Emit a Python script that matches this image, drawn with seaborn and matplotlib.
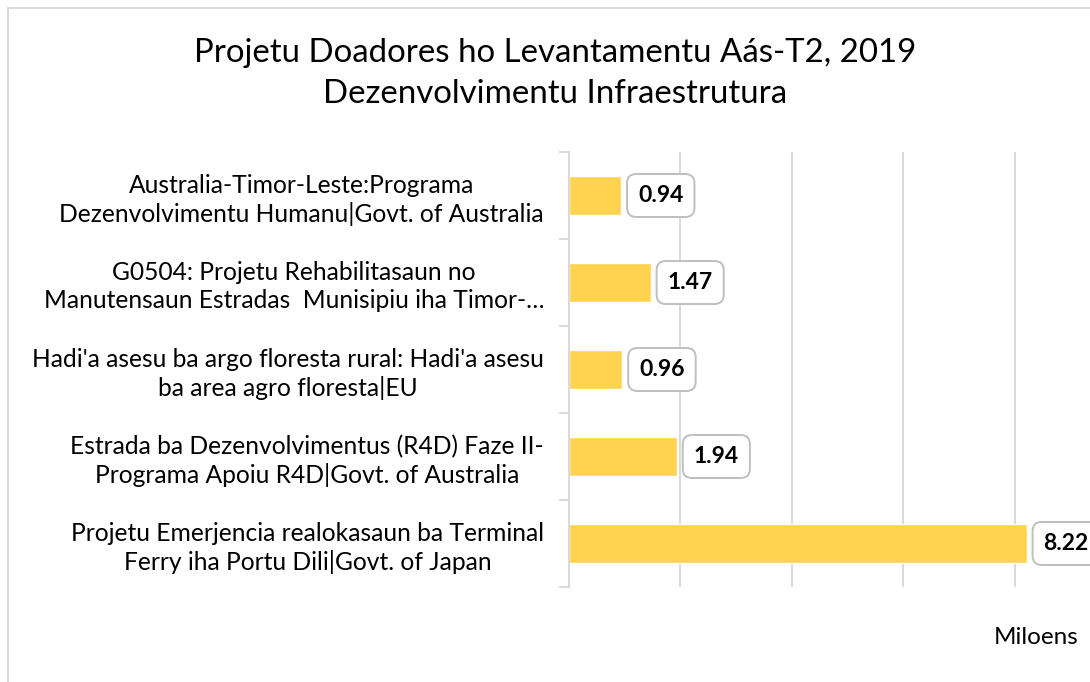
import matplotlib
matplotlib.use("Agg")
import matplotlib.pyplot as plt
import seaborn as sns
import pandas as pd
from matplotlib.patches import Rectangle
from matplotlib.ticker import FixedLocator

# data (millions)
projects = [
    "Australia-Timor-Leste:Programa\nDezenvolvimentu Humanu|Govt. of Australia",
    "G0504: Projetu Rehabilitasaun no\nManutensaun Estradas  Munisipiu iha Timor-…",
    "Hadi'a asesu ba argo floresta rural: Hadi'a asesu\nba area agro floresta|EU",
    "Estrada ba Dezenvolvimentus (R4D) Faze II-\nPrograma Apoiu R4D|Govt. of Australia",
    "Projetu Emerjencia realokasaun ba Terminal\nFerry iha Portu Dili|Govt. of Japan",
]
amounts = [0.94, 1.47, 0.96, 1.94, 8.22]
title = "Projetu Doadores ho Levantamentu Aás-T2, 2019\nDezenvolvimentu Infraestrutura"
unit_label = "Miloens"

df = pd.DataFrame({"projetu": projects, "montante": amounts})

sns.set_theme(style="white")
plt.rcParams["font.family"] = ["Lato", "DejaVu Sans"]

W, H = 1090, 682
fig = plt.figure(figsize=(W / 100, H / 100), dpi=100)

# outer chart frame (clipped at right/bottom like the source)
fig.add_artist(Rectangle((8 / W, -0.1), 1.2, (H - 8) / H + 0.1,
                         transform=fig.transFigure, fill=False,
                         edgecolor="#d9d9d9", lw=1.4))

ax = fig.add_axes([569 / W, 1 - 587 / H, 557 / W, 435 / H])
sns.barplot(data=df, x="montante", y="projetu", orient="h", color="#FFD34F",
            saturation=1, width=0.45, ax=ax)

ax.set_xlim(0, 10)
ax.set_ylim(4.5, -0.5)
ax.set_xlabel("")
ax.set_ylabel("")

for s in ["top", "right", "bottom"]:
    ax.spines[s].set_visible(False)
ax.spines["left"].set_color("#d9d9d9")
ax.spines["left"].set_linewidth(1.4)

ax.set_xticks([2, 4, 6, 8, 10])
ax.set_xticklabels([])
ax.tick_params(axis="x", length=0)
ax.grid(axis="x", color="#d9d9d9", lw=1.4)
ax.set_axisbelow(True)

ax.set_yticks(range(len(projects)))
ax.set_yticklabels(projects, fontsize=17.7, color="#000000", multialignment="center",
                   linespacing=1.25)
ax.tick_params(axis="y", which="major", length=0, pad=18)
ax.yaxis.set_minor_locator(FixedLocator([i - 0.5 for i in range(len(projects) + 1)]))
ax.tick_params(axis="y", which="minor", length=7, color="#d9d9d9", width=1.4, left=True)

for i, v in enumerate(amounts):
    ax.text(v + 0.3, i, f"{v:.2f}", ha="left", va="center", fontsize=16.5,
            fontweight="bold", color="#000000", zorder=5,
            bbox=dict(boxstyle="round,pad=0.48,rounding_size=0.4", fc="white",
                      ec="#bfbfbf", lw=1.4))

fig.text(555 / W, 1 - 73.5 / H, title, ha="center", va="center", fontsize=23.8,
         color="#000000", linespacing=1.42)
fig.text(1078 / W, 1 - 637 / H, unit_label, ha="right", va="center",
         fontsize=17.5, color="#000000")

fig.savefig("out.png", dpi=100, facecolor="white")
